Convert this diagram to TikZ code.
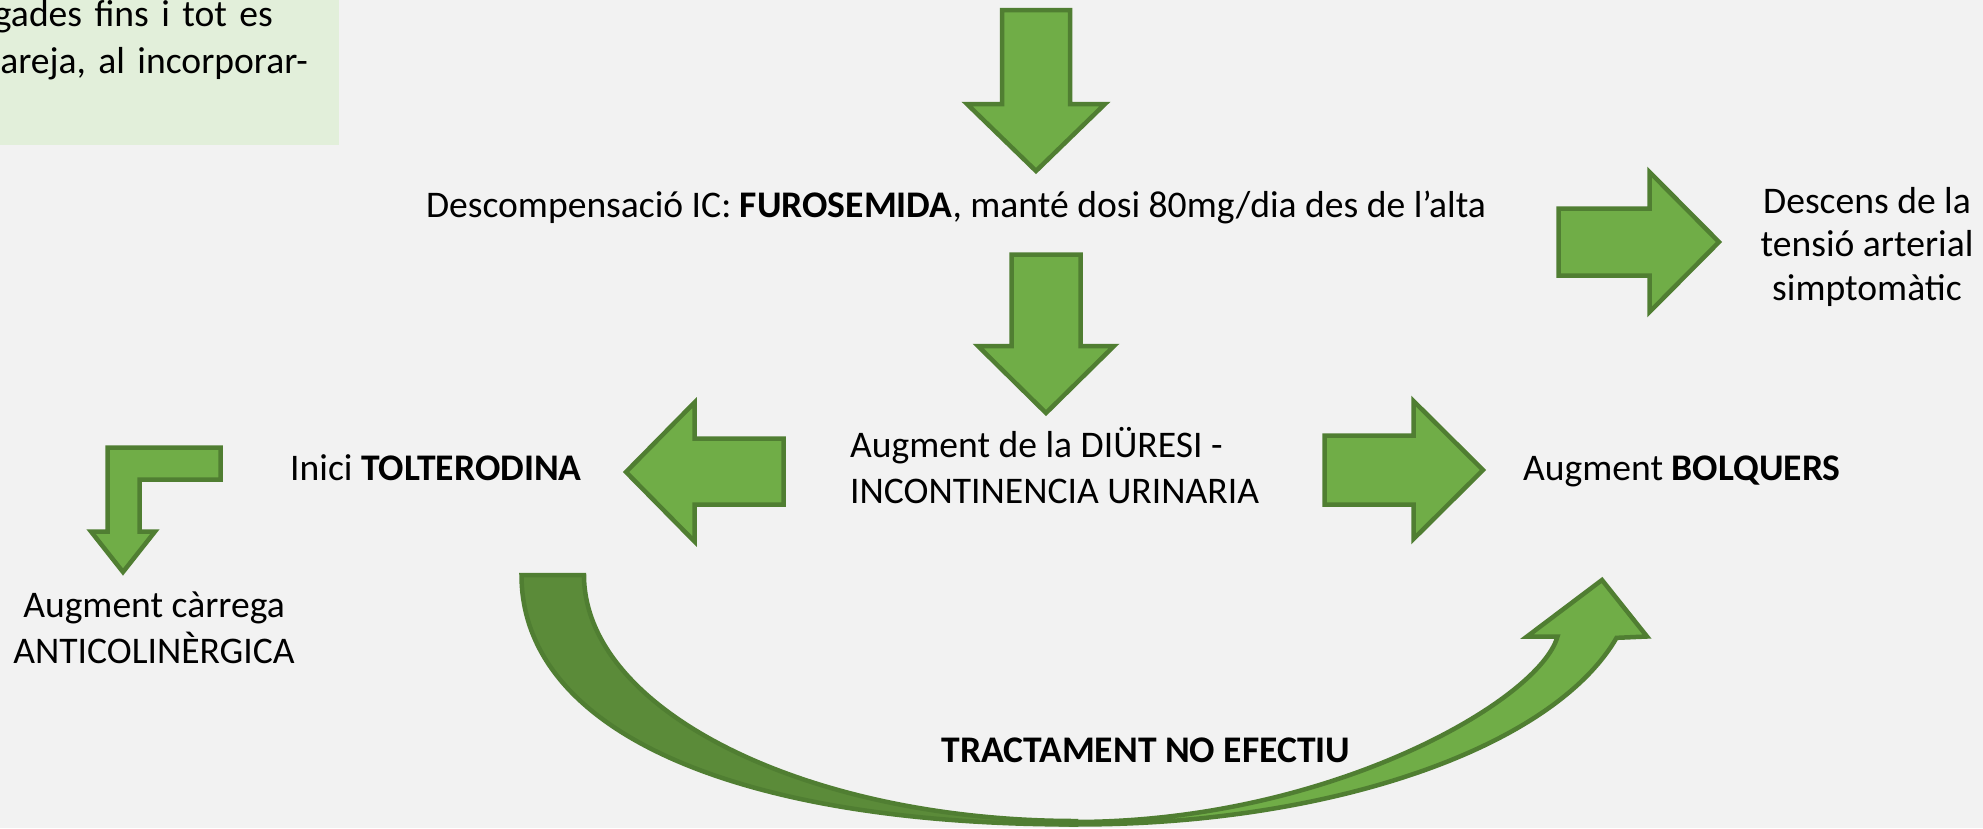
\documentclass[tikz,border=0pt]{standalone}
\usepackage{fontspec}
\setmainfont{Carlito}
\definecolor{bgcol}{HTML}{F2F2F2}
\definecolor{boxcol}{HTML}{E2EFDA}
\definecolor{arrowfill}{HTML}{70AD47}
\definecolor{arrowdark}{HTML}{5B8B39}
\definecolor{arrowline}{HTML}{507E32}
\newcommand{\widesp}{\spaceskip=12.4pt\relax}
\tikzset{
  blockarrow/.style={fill=arrowfill, draw=arrowline, line width=4.5pt, line join=miter},
  darkband/.style={fill=arrowdark, draw=arrowline, line width=4.5pt, line join=miter},
  txt/.style={font=\fontsize{37.6}{46}\selectfont, inner sep=0pt, text=black},
}
\begin{document}
\begin{tikzpicture}[x=1pt,y=-1pt]
\useasboundingbox (0,0) rectangle (1983,828);
\clip (0,0) rectangle (1983,828);
\fill[bgcol] (0,0) rectangle (1983,828);
% top-left text box
\fill[boxcol] (0,0) rectangle (339,145);
\node[txt, anchor=base east] (tl1) at (273,26) {\widesp gades fins i tot es};
\node[txt, anchor=base east] (tl2) at (308,73) {\widesp areja, al incorporar-};

% top down arrow
\draw[blockarrow] (1002,10) -- (1070,10) -- (1070,104) -- (1105,104) -- (1036,171) -- (967,104) -- (1002,104) -- cycle;
% main text
\node[txt, anchor=base] (desc) at (956,217) {Descompensació IC: \textbf{FUROSEMIDA}, manté dosi 80mg/dia des de l’alta};
% right-top arrow
\draw[blockarrow] (1558.5,208.5) -- (1649.5,208.5) -- (1649.5,172) -- (1719,242) -- (1649.5,312) -- (1649.5,275.5) -- (1558.5,275.5) -- cycle;
\node[txt, font=\fontsize{37.6}{43.5}\selectfont, align=center, anchor=base] (tens) at (1867,300) {Descens de la\\tensió arterial\\simptomàtic};
% second down arrow
\draw[blockarrow] (1011.5,254.5) -- (1080.5,254.5) -- (1080.5,346) -- (1114,346) -- (1046,413) -- (978,346) -- (1011.5,346) -- cycle;
% middle text
\node[txt, align=left, anchor=base west] (diur) at (850,503) {Augment de la DIÜRESI -\\INCONTINENCIA URINARIA};
% left arrow
\draw[blockarrow] (783.5,438.5) -- (694.5,438.5) -- (694.5,402.5) -- (626,472) -- (694.5,541.5) -- (694.5,504.5) -- (783.5,504.5) -- cycle;
\node[txt, anchor=base west] (tolt) at (290,480) {Inici \textbf{TOLTERODINA}};
% right arrow
\draw[blockarrow] (1324.5,435.5) -- (1413.5,435.5) -- (1413.5,401) -- (1483,470) -- (1413.5,539) -- (1413.5,504.5) -- (1324.5,504.5) -- cycle;
\node[txt, anchor=base west] (bolq) at (1523,480) {Augment \textbf{BOLQUERS}};
% bent arrow
\draw[blockarrow] (107.5,447.5) -- (220.5,447.5) -- (220.5,479.5) -- (139.5,479.5) -- (139.5,531.5) -- (155,531.5) -- (123,572) -- (91,531.5) -- (107.5,531.5) -- cycle;
\node[txt, align=center, anchor=base] (anti) at (154,663) {Augment càrrega\\ANTICOLINÈRGICA};
% curved arrow: dark back band
\draw[darkband] (521.5,575) .. controls (521.5,729.7) and (732.2,824.5) .. (1076,824.5)
  -- (1076,821) .. controls (806.5,821) and (584,710.3) .. (584,575) -- cycle;
% curved arrow: light front band with head
\draw[blockarrow] (1058.6,824.3) arc[start angle=92, end angle=14.6, x radius=556.5, y radius=249.5]
  -- (1647,636.5) -- (1602,580) -- (1527,636.5) -- (1557.5,636.5)
  .. controls (1540,700) and (1330,822) .. (1074,822) -- cycle;
\node[txt, anchor=base] (noef) at (1146,762) {\textbf{TRACTAMENT NO EFECTIU}};
\end{tikzpicture}
\end{document}
